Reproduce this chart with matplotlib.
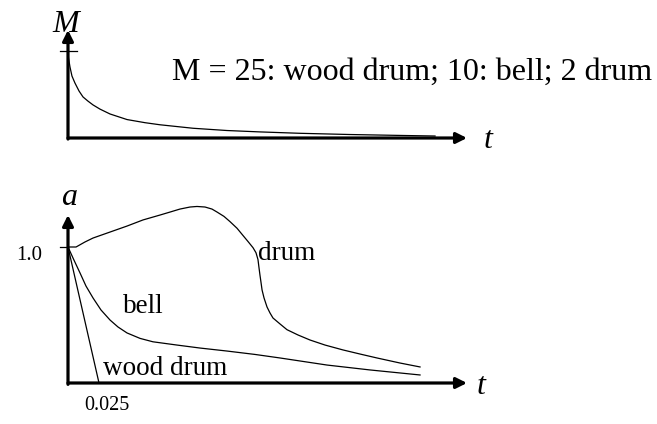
import matplotlib
matplotlib.use("Agg")
import matplotlib.pyplot as plt

plt.rcParams['font.family'] = ['Liberation Serif', 'DejaVu Serif']

# mass decay M(t), shared time scale (s)
m_time = [0, 0.0004, 0.0016, 0.0032, 0.0056, 0.0089, 0.0121, 0.0161, 0.0202,
          0.0258, 0.0339, 0.0476, 0.0621, 0.0742, 0.1008, 0.1282, 0.1548,
          0.1871, 0.2274, 0.2677, 0.2960]
m_value = [25.0, 23.0, 20.4, 17.8, 15.8, 13.5, 11.8, 10.6, 9.5,
           8.3, 6.9, 5.3, 4.4, 3.8, 2.8, 2.15, 1.75,
           1.35, 1.0, 0.74, 0.57]
m_tick = 25

# amplitude envelopes a(t)
drum_t = [0, 0.0065, 0.0137, 0.0202, 0.0339, 0.0476, 0.0605, 0.0742, 0.0823,
          0.0903, 0.0984, 0.1040, 0.1105, 0.1161, 0.1202, 0.1258, 0.1306,
          0.1363, 0.1411, 0.1452, 0.1492, 0.1516, 0.1532, 0.1540, 0.1548,
          0.1556, 0.1565, 0.1581, 0.1605, 0.1629, 0.1653, 0.1710, 0.1766,
          0.1855, 0.1952, 0.2073, 0.2218, 0.2355, 0.2492, 0.2677, 0.2839]
drum_a = [1.0, 1.0, 1.037, 1.066, 1.110, 1.154, 1.199, 1.235, 1.257,
          1.279, 1.294, 1.298, 1.294, 1.279, 1.257, 1.225, 1.187,
          1.138, 1.085, 1.040, 0.995, 0.958, 0.908, 0.850, 0.794,
          0.743, 0.684, 0.625, 0.559, 0.515, 0.478, 0.434, 0.392,
          0.353, 0.316, 0.279, 0.243, 0.213, 0.184, 0.147, 0.118]

bell_t = [0, 0.0048, 0.0097, 0.0145, 0.0202, 0.0266, 0.0339, 0.0403, 0.0476,
          0.0581, 0.0685, 0.0879, 0.1065, 0.1282, 0.1508, 0.1710, 0.2089,
          0.2435, 0.2839]
bell_a = [1.0, 0.904, 0.809, 0.713, 0.625, 0.537, 0.463, 0.412, 0.368,
          0.328, 0.303, 0.279, 0.257, 0.235, 0.210, 0.184, 0.132,
          0.096, 0.059]

wood_t = [0, 0.025]
wood_a = [1.0, 0.0]

a_tick = 1.0
t_tick = 0.025

W, H = 657, 424
PX_T = 1240.0      # px per second
PX_A = 136.0       # px per unit amplitude
PX_M = 3.48        # px per unit M
X0 = 68            # px of time origin

fig = plt.figure(figsize=(W / 100, H / 100), dpi=100)

t_max = 0.35
ax_m = fig.add_axes([X0 / W, (H - 138) / H, t_max * PX_T / W, 30 * PX_M / H])
ax_m.set_xlim(0, t_max)
ax_m.set_ylim(0, 30)

a_lo, a_hi = -0.3, 1.5
ax_a = fig.add_axes([X0 / W, (H - 383 - (-a_lo) * PX_A) / H,
                     t_max * PX_T / W, (a_hi - a_lo) * PX_A / H])
ax_a.set_xlim(0, t_max)
ax_a.set_ylim(a_lo, a_hi)

for ax in (ax_m, ax_a):
    ax.axis('off')

arrow = dict(arrowstyle='-|>', lw=2.3, color='black', mutation_scale=16,
             shrinkA=0, shrinkB=0)
t_end = (467 - X0) / PX_T
curve = dict(color='black', lw=0.9, clip_on=False, solid_joinstyle='round')

# top panel
ax_m.plot(m_time, m_value, **curve)
ax_m.annotate('', xy=(t_end, 0), xytext=(0, 0), arrowprops=arrow,
              annotation_clip=False)
ax_m.annotate('', xy=(0, 108 / PX_M), xytext=(0, -0.3), arrowprops=arrow,
              annotation_clip=False)
ax_m.plot([-8 / PX_T, 9 / PX_T], [m_tick, m_tick], color='black', lw=0.9,
          clip_on=False)
ax_m.text(-2 / PX_T, 114 / PX_M, 'M', fontsize=23, fontstyle='italic',
          ha='center', va='center')
ax_m.text(t_end + 17 / PX_T, -2 / PX_M, 't', fontsize=23, fontstyle='italic',
          ha='left', va='center')
ax_m.text((172 - X0) / PX_T, (138 - 80) / PX_M,
          'M = 25: wood drum; 10: bell; 2 drum',
          fontsize=23, ha='left', va='baseline')

# bottom panel
for t, a in ((drum_t, drum_a), (bell_t, bell_a), (wood_t, wood_a)):
    ax_a.plot(t, a, **curve)
ax_a.annotate('', xy=(t_end, 0), xytext=(0, 0), arrowprops=arrow,
              annotation_clip=False)
ax_a.annotate('', xy=(0, (383 - 215) / PX_A), xytext=(0, -0.01),
              arrowprops=arrow, annotation_clip=False)
ax_a.plot([-8 / PX_T, 0], [a_tick, a_tick], color='black', lw=0.9,
          clip_on=False)

ax_a.text(1 / PX_T, (383 - 205) / PX_A, 'a', fontsize=23, fontstyle='italic',
          ha='center', va='baseline')
ax_a.text(t_end + 10 / PX_T, (383 - 387) / PX_A, 't', fontsize=23,
          fontstyle='italic', ha='left', va='center')
ax_a.text((16 - X0) / PX_T, (383 - 260) / PX_A, f'{a_tick:.1f}', fontsize=15,
          ha='left', va='baseline')
ax_a.text((107 - X0) / PX_T, (383 - 410) / PX_A, f'{t_tick}', fontsize=14.5,
          ha='center', va='baseline')
ax_a.text((258 - X0) / PX_T, (383 - 260) / PX_A, 'drum', fontsize=19.5,
          ha='left', va='baseline')
ax_a.text((123 - X0) / PX_T, (383 - 313) / PX_A, 'bell', fontsize=19.5,
          ha='left', va='baseline')
ax_a.text((103 - X0) / PX_T, (383 - 375) / PX_A, 'wood drum', fontsize=19.5,
          ha='left', va='baseline')

fig.savefig('out.png', dpi=100)
